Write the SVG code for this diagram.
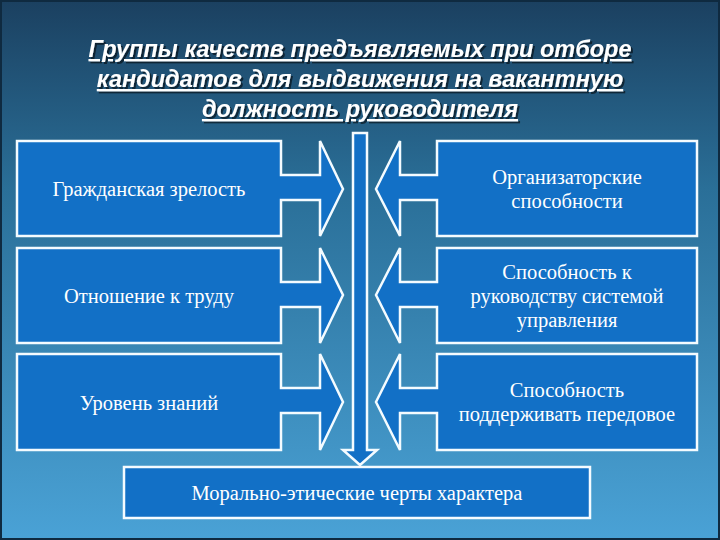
<svg xmlns="http://www.w3.org/2000/svg" width="720" height="540" viewBox="0 0 720 540">
<defs>
<linearGradient id="bg" x1="0" y1="0" x2="0" y2="1">
<stop offset="0" stop-color="#1b4060"/><stop offset="0.35" stop-color="#2a6f98"/><stop offset="1" stop-color="#4aa2d6"/>
</linearGradient>
<filter id="sh" x="-5%" y="-20%" width="110%" height="140%"><feDropShadow dx="2" dy="2" stdDeviation="0.6" flood-color="#000" flood-opacity="0.55"/></filter>
<style>
.b{fill:#1270c6;stroke:#f4fbff;stroke-width:2.5}
.t{fill:#fff;font-family:"Liberation Serif",serif;font-size:20.5px;text-anchor:middle}
.h{fill:#fff;font-family:"Liberation Sans",sans-serif;font-size:23.5px;font-weight:bold;font-style:italic;text-anchor:middle;text-decoration:underline}
</style>
</defs>
<rect width="720" height="540" fill="url(#bg)"/>
<rect x="1" y="1" width="718" height="538" fill="none" stroke="#0f2a40" stroke-width="2"/>
<g id="title" filter="url(#sh)">
<text class="h" x="360" y="57">Группы качеств предъявляемых при отборе</text>
<text class="h" x="360" y="87">кандидатов для выдвижения на вакантную</text>
<text class="h" x="360" y="117">должность руководителя</text>
</g>
<g id="connectors">
<path class="b" d="M353 133 H367 V450 H377 L360 465 L343 450 H353 Z"/>
</g>
<g id="n1"><path class="b" d="M17 141 H281 V175 H320 V141 L343 189 L320 236 V200 H281 V236 H17 Z"/><text class="t" x="149" y="196">Гражданская зрелость</text></g>
<g id="n2"><path class="b" d="M17 248 H281 V282 H320 V248 L343 295 L320 343 V307 H281 V343 H17 Z"/><text class="t" x="149" y="303">Отношение к труду</text></g>
<g id="n3"><path class="b" d="M17 354 H281 V388 H320 V354 L343 402 L320 450 V413 H281 V450 H17 Z"/><text class="t" x="149" y="410">Уровень знаний</text></g>
<g id="n4"><path class="b" d="M697 141 H437 V175 H400 V141 L376 189 L400 236 V200 H437 V236 H697 Z"/><text class="t" x="567" y="184">Организаторские</text><text class="t" x="567" y="208">способности</text></g>
<g id="n5"><path class="b" d="M697 248 H437 V282 H400 V248 L376 295 L400 343 V307 H437 V343 H697 Z"/><text class="t" x="567" y="279">Способность к</text><text class="t" x="567" y="303">руководству системой</text><text class="t" x="567" y="327">управления</text></g>
<g id="n6"><path class="b" d="M697 354 H437 V388 H400 V354 L376 402 L400 450 V413 H437 V450 H697 Z"/><text class="t" x="567" y="397">Способность</text><text class="t" x="567" y="421">поддерживать передовое</text></g>
<g id="n7"><rect class="b" x="124" y="467" width="466" height="51"/><text class="t" x="357" y="500">Морально-этические черты характера</text></g>
</svg>
